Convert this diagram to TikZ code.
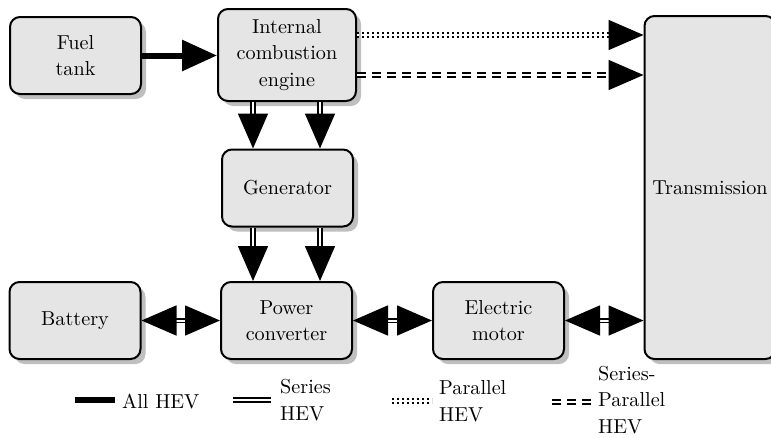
\documentclass[tikz,border=0pt]{standalone}
\usepackage{fontspec}
\setmainfont{lmroman10-regular}[Extension=.otf]
\usepackage{tikz}
\usetikzlibrary{arrows.meta,shadows}
\tikzset{
  hvbox/.style={rectangle, rounded corners=10pt, draw=black, line width=2pt,
                fill=black!10,
                drop shadow={shadow xshift=5pt, shadow yshift=-5pt,
                             fill=black!25, opacity=1},
                minimum width=131pt, minimum height=77pt, align=center,
                inner sep=2pt, font=\fontsize{20.2pt}{26.5pt}\selectfont},
  hvall/.style={line width=6pt},
  hvser/.style={double=white, line width=1.6pt, double distance=2pt},
  hvpar/.style={hvser, dash pattern=on 2pt off 3pt},
  hvsp/.style={hvser, dash pattern=on 9pt off 6pt},
  hvtip/.style={-{Triangle[length=35pt,width=30pt]}},
  hvtips/.style={{Triangle[length=35pt,width=30pt]}-{Triangle[length=35pt,width=30pt]}},
  hvlab/.style={anchor=west, align=left, inner sep=0pt,
                font=\fontsize{20.2pt}{26.5pt}\selectfont}
}
\begin{document}
\begin{tikzpicture}[x=1pt, y=-1pt]
  \useasboundingbox (0,0) rectangle (771,437);
  \node[hvbox] (fuel) at (75.5,55.5) {Fuel\\tank};
  \node[hvbox, minimum width=138pt, minimum height=92pt] (ice) at (287,55)
    {Internal\\combustion\\engine};
  \node[hvbox] (gen) at (287.5,188) {Generator};
  \node[hvbox] (batt) at (75,320.5) {Battery};
  \node[hvbox] (conv) at (286.5,320.5) {Power\\converter};
  \node[hvbox] (motor) at (498.5,320.5) {Electric\\motor};
  \node[hvbox, minimum height=343pt] (trans) at (710,187.5) {Transmission};

  \draw[hvall,hvtip] (fuel.east) -- (fuel.east -| ice.west);
  \coordinate (ptop) at ([yshift=20pt]ice.east);
  \coordinate (pbot) at ([yshift=-20pt]ice.east);
  \draw[hvpar,hvtip] (ptop) -- (ptop -| trans.west);
  \draw[hvsp,hvtip] (pbot) -- (pbot -| trans.west);

  \coordinate (a1) at ([xshift=-34pt]ice.south);
  \coordinate (a2) at ([xshift=33pt]ice.south);
  \draw[hvser,hvtip] (a1) -- (a1 |- gen.north);
  \draw[hvser,hvtip] (a2) -- (a2 |- gen.north);
  \coordinate (b1) at ([xshift=-34.5pt]gen.south);
  \coordinate (b2) at ([xshift=32.5pt]gen.south);
  \draw[hvser,hvtip] (b1) -- (b1 |- conv.north);
  \draw[hvser,hvtip] (b2) -- (b2 |- conv.north);

  \draw[hvser,hvtips] (batt.east) -- (conv.west);
  \draw[hvser,hvtips] (conv.east) -- (motor.west);
  \draw[hvser,hvtips] (motor.east) -- (motor.east -| trans.west);

  \coordinate (k1) at (75,400);
  \coordinate (k2) at (115,400);
  \draw[hvall] (k1) -- (k2);
  \node[hvlab] (l1) at (122,401) {All HEV};
  \coordinate (k3) at (233,400);
  \coordinate (k4) at (271,400);
  \draw[hvser] (k3) -- (k4);
  \node[hvlab] (l2) at (280,400) {Series\\HEV};
  \coordinate (k5) at (392,401);
  \coordinate (k6) at (432,401);
  \draw[hvpar] (k5) -- (k6);
  \node[hvlab] (l3) at (439,401) {Parallel\\HEV};
  \coordinate (k7) at (552,402);
  \coordinate (k8) at (592,402);
  \draw[hvsp] (k7) -- (k8);
  \node[hvlab] (l4) at (598,400) {Series-\\Parallel\\HEV};
\end{tikzpicture}
\end{document}
